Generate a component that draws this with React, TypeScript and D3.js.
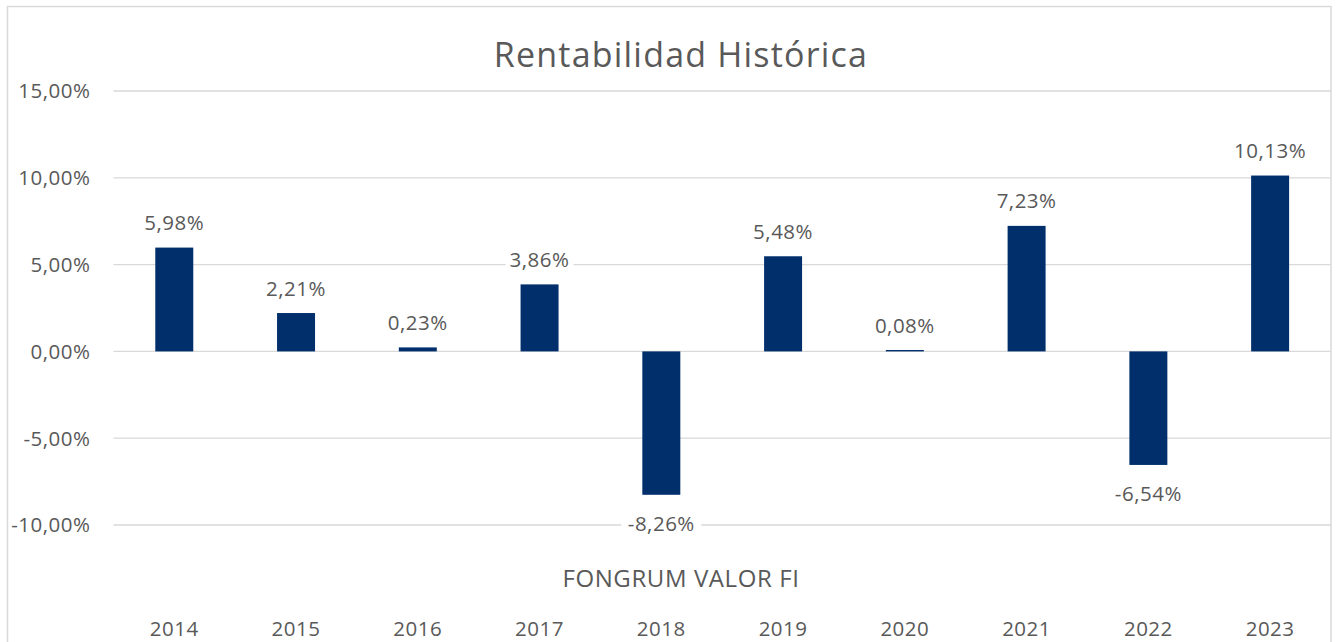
import React from "react";
import * as d3 from "d3";

const years = ["2014", "2015", "2016", "2017", "2018", "2019", "2020", "2021", "2022", "2023"];
const returns = [5.98, 2.21, 0.23, 3.86, -8.26, 5.48, 0.08, 7.23, -6.54, 10.13];
const yTicks = [15, 10, 5, 0, -5, -10];
const title = "Rentabilidad Histórica";
const seriesName = "FONGRUM VALOR FI";

const W = 1336;
const H = 642;
const font = "'Open Sans', sans-serif";
const textColor = "#595959";
const gridColor = "#d9d9d9";
const barColor = "#002F6C";

const fmt = (v: number) => v.toFixed(2).replace(".", ",") + "%";

export default function App() {
  const x = d3.scaleBand<string>().domain(years).range([113.4, 1331]).paddingInner(0.688).paddingOuter(0.344);
  const y = d3.scaleLinear().domain([-10, 15]).range([525, 91]);
  const bw = x.bandwidth();
  const small = 20.5;
  const ls = 0.5;

  return (
    <svg width={W} height={H} style={{ position: "absolute", left: 0, top: 0 }} fontFamily={font}>
      <rect x={0} y={0} width={W} height={H} fill="#fff" />
      <rect x={7.5} y={6.5} width={1323.5} height={H + 10} fill="none" stroke={gridColor} strokeWidth={1.5} />
      <text x={681} y={67} textAnchor="middle" fontSize={34} letterSpacing={1.2} fill={textColor}>{title}</text>
      {yTicks.map((t) => (
        <g key={t}>
          <line x1={113.4} x2={1331} y1={y(t)} y2={y(t)} stroke={gridColor} strokeWidth={1.3} />
          <text x={90.5} y={y(t) + 7.3} textAnchor="end" fontSize={small} letterSpacing={ls} fill={textColor}>{fmt(t)}</text>
        </g>
      ))}
      {years.map((yr, i) => {
        const v = returns[i];
        const x0 = x(yr)!;
        const top = y(Math.max(0, v));
        const bot = y(Math.min(0, v));
        const cx = x0 + bw / 2;
        const baseline = v >= 0 ? top - 17.5 : bot + 36.5;
        const label = fmt(v);
        const lw = label.length * 12 + 8;
        return (
          <g key={yr}>
            <rect x={x0} y={top} width={bw} height={Math.max(bot - top, 0.8)} fill={barColor} />
            <rect x={cx - lw / 2} y={baseline - 20} width={lw} height={26} fill="#fff" />
            <text x={cx} y={baseline} textAnchor="middle" fontSize={small} letterSpacing={ls} fill={textColor}>{label}</text>
            <text x={cx} y={636} textAnchor="middle" fontSize={small} letterSpacing={ls} fill={textColor}>{yr}</text>
          </g>
        );
      })}
      <text x={681} y={587} textAnchor="middle" fontSize={24} letterSpacing={0.6} fill={textColor}>{seriesName}</text>
    </svg>
  );
}
